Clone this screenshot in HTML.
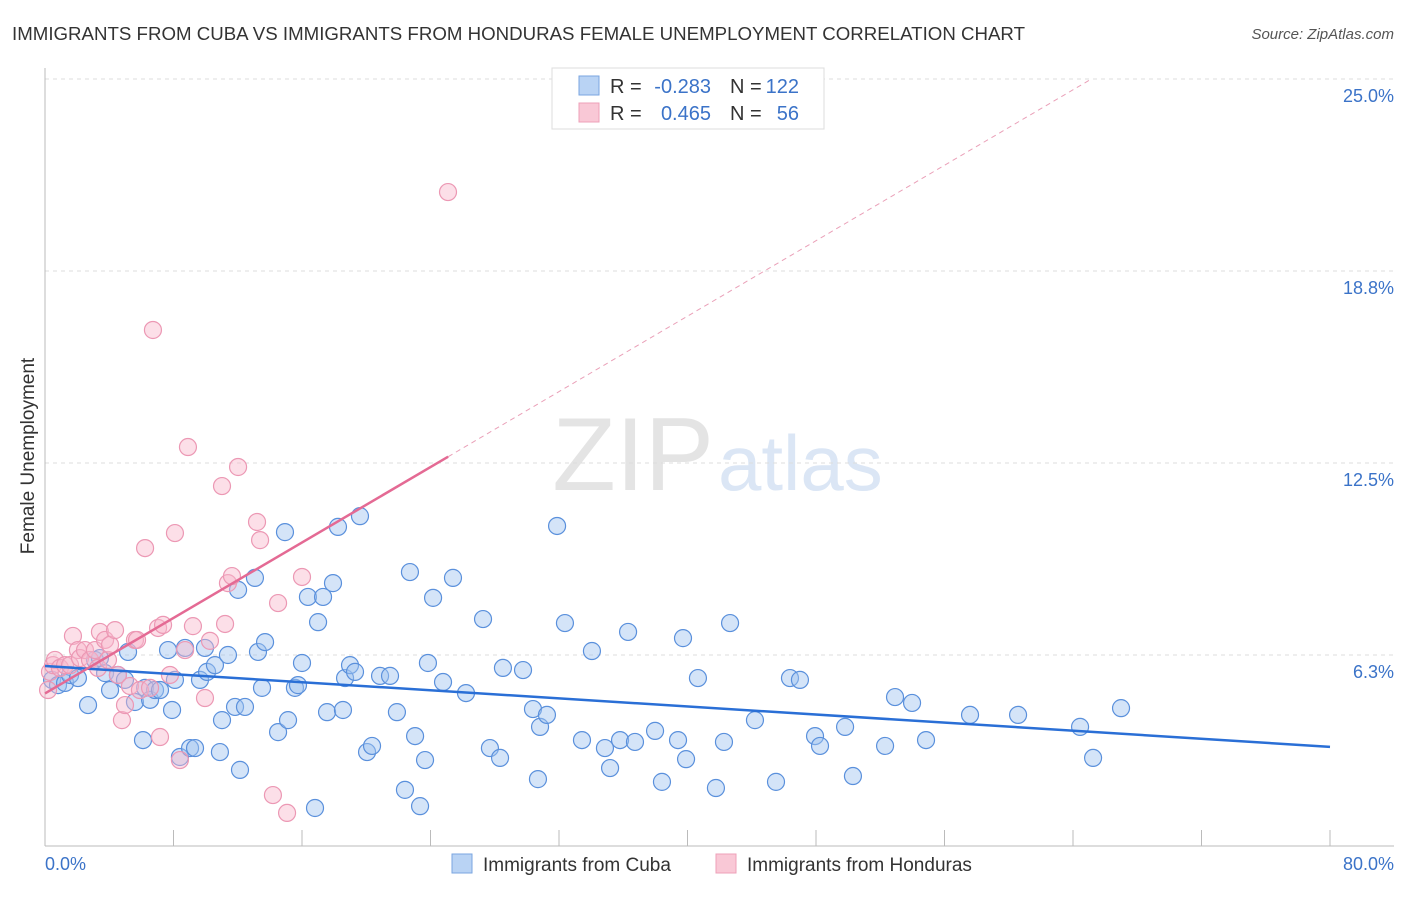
<!DOCTYPE html>
<html><head><meta charset="utf-8"><style>
body{margin:0;background:#fff;font-family:"Liberation Sans",sans-serif;}
svg text{font-family:"Liberation Sans",sans-serif;}
</style></head><body>
<svg width="1406" height="892" xmlns="http://www.w3.org/2000/svg">
<text x="12" y="40" font-size="18" fill="#333" textLength="1013" lengthAdjust="spacingAndGlyphs">IMMIGRANTS FROM CUBA VS IMMIGRANTS FROM HONDURAS FEMALE UNEMPLOYMENT CORRELATION CHART</text>
<text x="1394" y="39" font-size="15" fill="#555" text-anchor="end" font-style="italic">Source: ZipAtlas.com</text>
<text x="714" y="490" font-size="104" fill="#e4e4e4" text-anchor="end" font-family="Liberation Serif">ZIP</text>
<text x="718" y="490" font-size="78" fill="#dbe6f5">atlas</text>
<g id="grid"></g>
<g id="axes"></g>
<g id="pts"></g>
<g id="lines"></g>
<text x="34" y="456" font-size="19" fill="#333" text-anchor="middle" transform="rotate(-90 34 456)">Female Unemployment</text>
<text x="45" y="870" font-size="18" fill="#3b73c8">0.0%</text>
<text x="1394" y="870" font-size="18" fill="#3b73c8" text-anchor="end">80.0%</text>
<g>
<rect x="552" y="68" width="272" height="61" fill="#fff" stroke="#ddd"/>
<rect x="579" y="76" width="20" height="19" fill="#b9d3f4" stroke="#7aa6e0"/>
<rect x="579" y="103" width="20" height="19" fill="#f9c8d6" stroke="#eea0b8"/>
<text x="610" y="93" font-size="20" fill="#333">R =</text>
<text x="711" y="93" font-size="20" fill="#3b73c8" text-anchor="end">-0.283</text>
<text x="730" y="93" font-size="20" fill="#333">N =</text>
<text x="799" y="93" font-size="20" fill="#3b73c8" text-anchor="end">122</text>
<text x="610" y="120" font-size="20" fill="#333">R =</text>
<text x="711" y="120" font-size="20" fill="#3b73c8" text-anchor="end">0.465</text>
<text x="730" y="120" font-size="20" fill="#333">N =</text>
<text x="799" y="120" font-size="20" fill="#3b73c8" text-anchor="end">56</text>
</g>
<g><rect x="452" y="854" width="20" height="19" fill="#b9d3f4" stroke="#7aa6e0"/><text x="483" y="871" font-size="19" fill="#333">Immigrants from Cuba</text></g>
<g><rect x="716" y="854" width="20" height="19" fill="#f9c8d6" stroke="#eea0b8"/><text x="747" y="871" font-size="19" fill="#333">Immigrants from Honduras</text></g>
</svg>
<script>
const yTicks=[25,18.75,12.5,6.25];
const yTickLabels=["25.0%","18.8%","12.5%","6.3%"];
const xTicks=[0,8,16,24,32,40,48,56,64,72,80];
const cubaPx=[[52,680],[58,685],[65,683],[70,675],[78,678],[88,705],[95,660],[100,658],[105,673],[110,690],[118,675],[125,680],[128,652],[135,702],[143,740],[145,688],[150,700],[155,690],[160,690],[168,650],[172,710],[175,680],[180,757],[185,648],[190,748],[195,748],[200,680],[205,648],[207,672],[215,665],[220,752],[222,720],[228,655],[235,707],[238,590],[240,770],[245,707],[255,578],[258,652],[262,688],[265,642],[278,732],[285,532],[288,720],[295,688],[298,685],[302,663],[308,597],[315,808],[318,622],[323,597],[327,712],[333,583],[338,527],[343,710],[345,678],[350,665],[355,672],[360,516],[367,752],[372,746],[380,676],[390,676],[397,712],[405,790],[410,572],[415,736],[420,806],[425,760],[428,663],[433,598],[443,682],[453,578],[466,693],[483,619],[490,748],[500,758],[503,668],[523,670],[533,709],[538,779],[540,727],[547,715],[557,526],[565,623],[582,740],[592,651],[605,748],[610,768],[620,740],[635,742],[628,632],[655,731],[662,782],[678,740],[683,638],[686,759],[698,678],[716,788],[724,742],[730,623],[755,720],[776,782],[790,678],[800,680],[815,736],[820,746],[845,727],[853,776],[885,746],[895,697],[912,703],[926,740],[970,715],[1018,715],[1080,727],[1093,758],[1121,708]];
const hondPx=[[48,690],[50,672],[53,665],[55,660],[60,668],[65,665],[70,665],[73,636],[78,650],[80,658],[85,650],[90,660],[95,650],[98,668],[100,632],[105,640],[108,660],[110,645],[115,630],[118,675],[122,720],[125,705],[130,686],[135,640],[137,640],[140,690],[145,548],[150,688],[153,330],[158,628],[160,737],[163,625],[170,675],[175,533],[180,760],[185,650],[188,447],[193,626],[205,698],[210,641],[222,486],[225,624],[228,583],[232,576],[238,467],[257,522],[260,540],[273,795],[278,603],[287,813],[302,577],[448,192]];
const r2=v=>Math.round(v*100)/100;
const cubaX=cubaPx.map(p=>r2((p[0]-45)*80/1285)), cubaY=cubaPx.map(p=>r2((847-p[1])*25/768));
const hondX=hondPx.map(p=>r2((p[0]-45)*80/1285)), hondY=hondPx.map(p=>r2((847-p[1])*25/768));
const cubaFit=[5.89,3.26], hondFit=[5.0,0.307];
const X=v=>45+v*1285/80, Y=v=>847-v*768/25;
const NS="http://www.w3.org/2000/svg";
function mk(g,t,a){const e=document.createElementNS(NS,t);for(const k in a)e.setAttribute(k,a[k]);document.getElementById(g).appendChild(e);return e;}
yTicks.forEach((t,i)=>{let l=mk('grid','line',{x1:45,x2:1394,y1:Y(t),y2:Y(t),stroke:'#ddd','stroke-dasharray':'4,4'});


let tx=mk('grid','text',{x:1394,y:Y(t)+23,'font-size':18,fill:'#3b73c8','text-anchor':'end'});tx.textContent=yTickLabels[i];

});
let ax=mk('axes','line',{x1:45,x2:45,y1:68,y2:846,stroke:'#bbb'});


let bx=mk('axes','line',{x1:45,x2:1394,y1:846,y2:846,stroke:'#bbb'});


xTicks.forEach(t=>{let l=mk('axes','line',{x1:X(t),x2:X(t),y1:830,y2:846,stroke:'#bbb'});

});
cubaX.forEach((x,i)=>{let c=mk('pts','circle',{cx:X(x),cy:Y(cubaY[i]),r:8.5,fill:'rgba(160,195,240,0.45)',stroke:'#5a90dc','stroke-width':1.2});

});
hondX.forEach((x,i)=>{let c=mk('pts','circle',{cx:X(x),cy:Y(hondY[i]),r:8.5,fill:'rgba(248,185,205,0.45)',stroke:'#ec98b4','stroke-width':1.2});

});
let bl=mk('lines','line',{x1:X(0),y1:Y(cubaFit[0]),x2:X(80),y2:Y(cubaFit[1]),stroke:'#2a6fd6','stroke-width':2.5});


const xs=25.1, xe=(25-hondFit[0])/hondFit[1];
let pl=mk('lines','line',{x1:X(0),y1:Y(hondFit[0]),x2:X(xs),y2:Y(hondFit[0]+hondFit[1]*xs),stroke:'#e46a94','stroke-width':2.5});


let pd=mk('lines','line',{x1:X(xs),y1:Y(hondFit[0]+hondFit[1]*xs),x2:X(xe),y2:Y(25),stroke:'#eaa0b8','stroke-width':1,'stroke-dasharray':'5,4'});


</script>
</body></html>
